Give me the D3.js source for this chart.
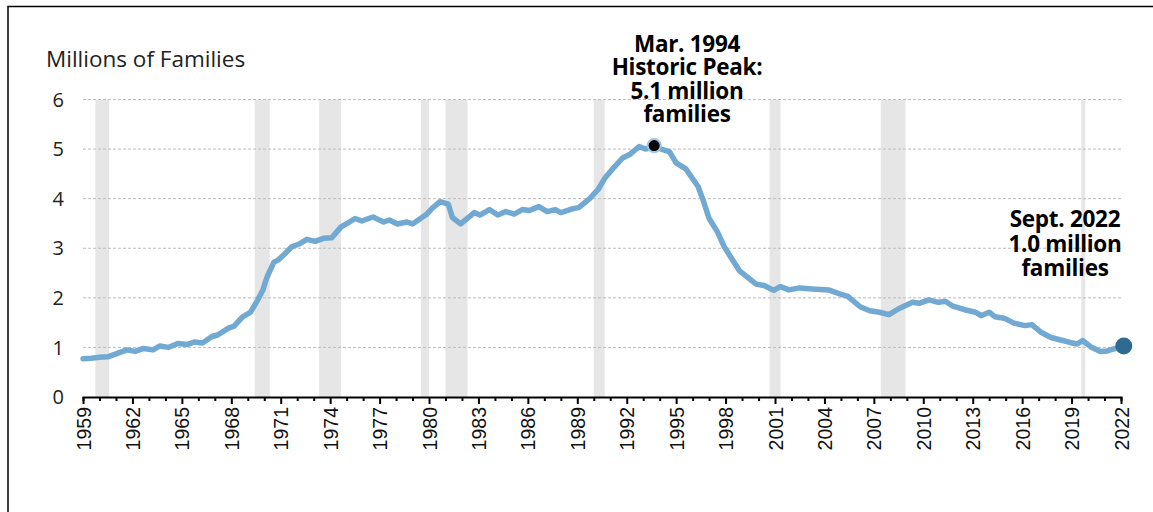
<!DOCTYPE html>
<html>
<head>
<meta charset="utf-8">
<script src="https://cdn.jsdelivr.net/npm/d3@7"></script>
<style>
  body { margin: 0; background: #fff; }
  svg { display: block; }
</style>
</head>
<body>
<svg id="chart" width="1153" height="512"></svg>
<script>
// monthly readings (YYYY-MM) and caseload, millions of families
const months = [
  "1959-07","1960-01","1960-07","1961-01","1961-06","1961-10","1962-03","1962-09",
  "1963-03","1963-10","1964-03","1964-09","1965-04","1965-11","1966-04","1966-10",
  "1967-05","1967-09","1968-05","1968-09","1969-03","1969-09","1970-02","1970-06",
  "1970-09","1971-02","1971-05","1971-10","1972-03","1972-08","1973-02","1973-08",
  "1974-02","1974-08","1975-03","1975-08","1976-01","1976-06","1977-02","1977-10",
  "1978-02","1978-08","1979-03","1979-07","1980-05","1980-09","1981-03","1981-09",
  "1981-12","1982-06","1983-04","1983-08","1984-03","1984-09","1985-03","1985-09",
  "1986-03","1986-08","1987-03","1987-09","1988-03","1988-07","1989-04","1989-08",
  "1990-04","1990-10","1991-03","1991-09","1992-04","1992-09","1993-04","1993-09",
  "1994-03","1994-08","1995-02","1995-07","1996-02","1996-11","1997-03","1997-07",
  "1998-01","1998-06","1999-05","2000-05","2000-11","2001-06","2001-11","2002-05",
  "2003-01","2003-10","2004-10","2005-06","2005-12","2006-09","2007-04","2007-11",
  "2008-06","2009-01","2009-11","2010-04","2010-11","2011-06","2011-11","2012-04",
  "2013-01","2013-09","2014-01","2014-07","2014-11","2015-06","2016-01","2016-09",
  "2017-02","2017-09","2018-04","2018-11","2019-06","2019-11","2020-03","2020-09",
  "2021-04","2021-09","2022-09"
];
const families = [
  0.77,0.78,0.80,0.81,0.86,0.90,0.95,0.92,
  0.98,0.95,1.03,1.00,1.08,1.06,1.11,1.09,
  1.22,1.25,1.39,1.43,1.61,1.71,1.95,2.16,
  2.42,2.72,2.76,2.89,3.03,3.08,3.18,3.14,
  3.20,3.21,3.43,3.51,3.60,3.55,3.63,3.53,
  3.57,3.49,3.53,3.49,3.68,3.80,3.94,3.89,
  3.62,3.49,3.72,3.67,3.78,3.67,3.74,3.69,
  3.78,3.76,3.84,3.74,3.78,3.72,3.80,3.82,
  4.00,4.18,4.41,4.61,4.82,4.89,5.05,5.00,
  5.07,5.00,4.95,4.72,4.60,4.24,3.94,3.60,
  3.33,3.03,2.55,2.28,2.25,2.15,2.23,2.16,
  2.20,2.18,2.16,2.08,2.03,1.82,1.74,1.71,
  1.66,1.78,1.91,1.89,1.96,1.91,1.93,1.84,
  1.76,1.71,1.64,1.71,1.62,1.59,1.49,1.44,
  1.46,1.30,1.20,1.15,1.10,1.07,1.14,1.01,
  0.92,0.93,1.03
];

// recessions (shaded)
const recessionStart = ["1960-04","1969-12","1973-11","1980-01","1981-07","1990-07","2001-03","2007-12","2020-02"];
const recessionEnd   = ["1961-02","1970-11","1975-03","1980-07","1982-11","1991-03","2001-11","2009-06","2020-04"];

const yTicks = [0, 1, 2, 3, 4, 5, 6];
const firstYear = 1959, lastYear = 2022;

const peakLabel = ["Mar. 1994", "Historic Peak:", "5.1 million", "families"];
const lastLabel = ["Sept. 2022", "1.0 million", "families"];

const parse = d3.timeParse("%Y-%m");
const data = months.map((m, i) => ({ date: parse(m), value: families[i] }));

const svg = d3.select("#chart");
const bodyFont = "'Open Sans', Lato, sans-serif";

// outer frame
svg.append("rect")
  .attr("x", 8).attr("y", 6.5)
  .attr("width", 1200).attr("height", 600)
  .attr("fill", "none").attr("stroke", "#000").attr("stroke-width", 1.5);

// year ticks sit in the middle of each year
const x = d3.scaleTime()
  .domain([new Date(firstYear, 6, 1), new Date(lastYear, 6, 1)])
  .range([83, 1121]);

const y = d3.scaleLinear()
  .domain([0, 6])
  .range([397, 99.5]);

// recession bars
svg.append("g").selectAll("rect")
  .data(recessionStart)
  .enter().append("rect")
  .attr("x", d => x(parse(d)))
  .attr("width", (d, i) => Math.max(4, x(parse(recessionEnd[i])) - x(parse(d))))
  .attr("y", y(6))
  .attr("height", y(0) - y(6))
  .attr("fill", "#e6e6e6");

// gridlines
svg.append("g").selectAll("line")
  .data(yTicks.filter(d => d > 0))
  .enter().append("line")
  .attr("x1", 83).attr("x2", 1123)
  .attr("y1", d => y(d)).attr("y2", d => y(d))
  .attr("stroke", "#bdbdbd")
  .attr("stroke-width", 1)
  .attr("stroke-dasharray", "3,2");

// y labels
svg.append("g").selectAll("text")
  .data(yTicks)
  .enter().append("text")
  .attr("x", 64)
  .attr("y", d => y(d))
  .attr("dy", "0.36em")
  .attr("text-anchor", "end")
  .attr("font-family", bodyFont)
  .attr("font-size", 20)
  .attr("fill", "#222")
  .text(d => d);

svg.append("text")
  .attr("x", 46).attr("y", 67)
  .attr("font-family", bodyFont)
  .attr("font-size", 22.5)
  .attr("fill", "#222")
  .text("Millions of Families");

// x axis
const yearTicks = d3.range(firstYear, lastYear + 1).map(yr => new Date(yr, 6, 1));
const xAxis = d3.axisBottom(x)
  .tickValues(yearTicks)
  .tickSizeOuter(0)
  .tickSize(4)
  .tickFormat(d => (d.getFullYear() - firstYear) % 3 === 0 ? d.getFullYear() : "");

const xAxisG = svg.append("g")
  .attr("transform", `translate(0, ${y(0)})`)
  .call(xAxis);

xAxisG.select(".domain").attr("stroke", "#000").attr("stroke-width", 2);
xAxisG.selectAll(".tick line")
  .attr("stroke", "#000").attr("stroke-width", 2)
  .attr("y2", d => (d.getFullYear() - firstYear) % 3 === 0 ? 7 : 4);
xAxisG.selectAll(".tick text")
  .attr("font-family", "'Liberation Sans', Arial, sans-serif")
  .attr("font-size", 19.5)
  .attr("fill", "#111")
  .attr("text-anchor", "end")
  .attr("transform", "rotate(-90)")
  .attr("x", -10)
  .attr("y", 0)
  .attr("dy", "0.36em");

// caseload line
const line = d3.line()
  .x(d => x(d.date))
  .y(d => y(d.value));

svg.append("path")
  .datum(data)
  .attr("d", line)
  .attr("fill", "none")
  .attr("stroke", "#71a9d3")
  .attr("stroke-width", 5.5)
  .attr("stroke-linejoin", "round")
  .attr("stroke-linecap", "round");

// peak marker
const peak = data[d3.maxIndex(data, d => d.value)];
svg.append("circle")
  .attr("cx", x(peak.date)).attr("cy", y(peak.value))
  .attr("r", 6.5)
  .attr("fill", "#000")
  .attr("stroke", "#9cc5e6")
  .attr("stroke-width", 2);

// latest marker
const last = data[data.length - 1];
svg.append("circle")
  .attr("cx", x(last.date)).attr("cy", y(last.value))
  .attr("r", 8.5)
  .attr("fill", "#2f6a95");

// annotations
const note = (lines, cx, y0, step) => {
  svg.append("text")
    .attr("font-family", bodyFont)
    .attr("font-weight", "bold")
    .attr("font-size", 22.5)
    .attr("letter-spacing", -0.3)
    .attr("fill", "#000")
    .attr("text-anchor", "middle")
    .selectAll("tspan")
    .data(lines)
    .enter().append("tspan")
    .attr("x", cx)
    .attr("y", (d, i) => y0 + i * step)
    .text(d => d);
};
note(peakLabel, 687, 52, 23.3);
note(lastLabel, 1065, 227, 24.5);
</script>
</body>
</html>
